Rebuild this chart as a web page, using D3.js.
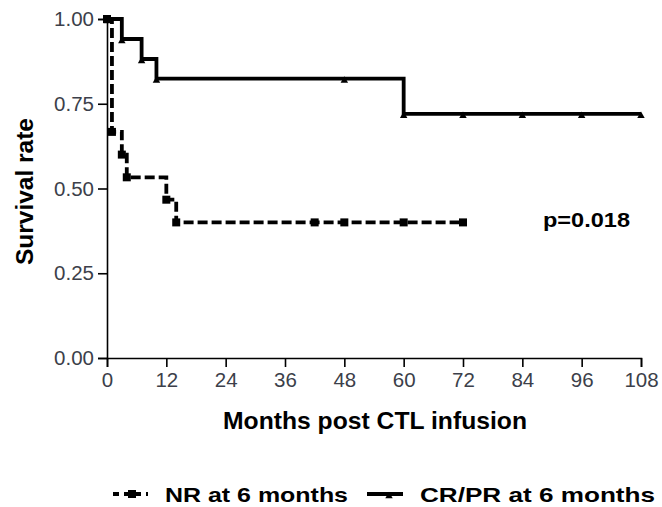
<!DOCTYPE html>
<html><head><meta charset="utf-8">
<script src="https://cdn.jsdelivr.net/npm/d3@7"></script>
<style>body{margin:0;background:#fff}svg{display:block}</style>
</head><body>
<svg id="c" width="662" height="507"></svg>
<script>
const xTicks = [0,12,24,36,48,60,72,84,96,108];
const yTicks = [0,0.25,0.5,0.75,1.0];
const nrTimes = [0,1,3,4,12,14,42,48,60,72];
const nrSurv  = [1,0.667,0.6,0.533,0.467,0.4,0.4,0.4,0.4,0.4];
const crTimes = [0,3,7,10,48,60,72,84,96,108];
const crSurv  = [1,0.941,0.882,0.824,0.824,0.72,0.72,0.72,0.72,0.72];
const seriesNames = ["NR at 6 months","CR/PR at 6 months"];
const pText = "p=0.018";

const svg = d3.select("#c");
const x = d3.scaleLinear().domain([0,108]).range([107,641]);
const y = d3.scaleLinear().domain([0,1]).range([358,19]);
const F = "'Liberation Sans', Arial, sans-serif";
const LW = 3.8;

// axes
const xa = svg.append("g").attr("transform","translate(0,358)")
  .call(d3.axisBottom(x).tickValues(xTicks).tickSize(9).tickPadding(5).tickFormat(d3.format("d")));
const ya = svg.append("g").attr("transform","translate(107,0)")
  .call(d3.axisLeft(y).tickValues(yTicks).tickSize(9).tickPadding(4).tickFormat(d3.format(".2f")));
[xa,ya].forEach(a=>{
  a.select(".domain").attr("stroke","#000").attr("stroke-width",1.6);
  a.selectAll(".tick line").attr("stroke","#000").attr("stroke-width",1.6);
  a.selectAll(".tick text").attr("fill","#3c3f4a").style("font-family",F).style("font-size","20.5px");
});

const line = d3.line().curve(d3.curveStepAfter).x(d=>x(d[0])).y(d=>y(d[1]));
const nr = nrTimes.map((t,i)=>[t,nrSurv[i]]);
const cr = crTimes.map((t,i)=>[t,crSurv[i]]);

svg.append("path").datum(cr).attr("d",line).attr("fill","none")
  .attr("stroke","#000").attr("stroke-width",LW);
svg.append("path").datum(nr).attr("d",line).attr("fill","none")
  .attr("stroke","#000").attr("stroke-width",LW).attr("stroke-dasharray","10,4");

const tri = d3.symbol().type(d3.symbolTriangle).size(24);
svg.selectAll(".crm").data(cr).enter().append("path")
  .attr("transform",d=>`translate(${x(d[0])},${y(d[1])+2})`).attr("d",tri).attr("fill","#000");
svg.selectAll(".nrm").data(nr).enter().append("rect")
  .attr("x",d=>x(d[0])-4).attr("y",d=>y(d[1])-4).attr("width",8).attr("height",8).attr("fill","#000");

function txt(xp, yp, s, size, len){
  return svg.append("text").attr("x",xp).attr("y",yp).text(s)
    .attr("textLength",len).attr("lengthAdjust","spacingAndGlyphs")
    .style("font-family",F).style("font-size",size+"px").style("font-weight","bold").attr("fill","#000");
}
// p value
txt(543,227,pText,20,87);
// axis titles
txt(223,429,"Months post CTL infusion",24,304);
svg.append("text").attr("transform","translate(33,265) rotate(-90)")
  .text("Survival rate").attr("textLength",147).attr("lengthAdjust","spacingAndGlyphs")
  .style("font-family",F).style("font-size","24px").style("font-weight","bold");

// legend
const ly = 494;
svg.append("line").attr("x1",113).attr("x2",148).attr("y1",ly).attr("y2",ly)
  .attr("stroke","#000").attr("stroke-width",LW).attr("stroke-dasharray","6,5");
svg.append("rect").attr("x",128).attr("y",ly-4).attr("width",8).attr("height",8).attr("fill","#000");
txt(165,502,seriesNames[0],21,183);
svg.append("line").attr("x1",367).attr("x2",403).attr("y1",ly).attr("y2",ly)
  .attr("stroke","#000").attr("stroke-width",LW);
svg.append("path").attr("transform",`translate(389,${ly+2})`).attr("d",tri).attr("fill","#000");
txt(420,502,seriesNames[1],21,235);
</script>
</body></html>
